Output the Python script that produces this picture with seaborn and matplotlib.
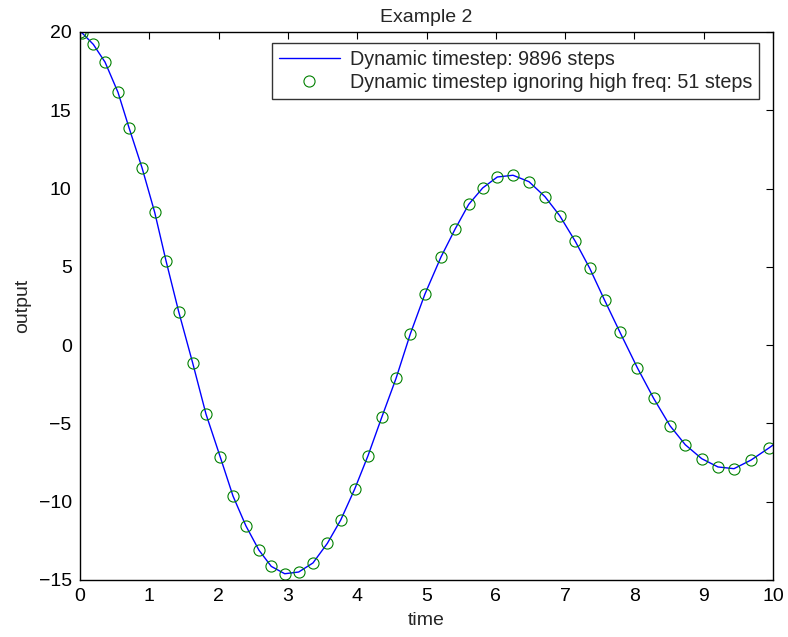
import matplotlib
matplotlib.use("Agg")
import matplotlib.pyplot as plt
import seaborn as sns
import pandas as pd

# samples (time, output)
coarse_t = [0.0, 0.03, 0.192, 0.361, 0.548, 0.707, 0.895, 1.078, 1.241, 1.424,
            1.626, 1.818, 2.025, 2.208, 2.395, 2.583, 2.760, 2.954, 3.156, 3.362,
            3.569, 3.762, 3.964, 4.156, 4.354, 4.560, 4.766, 4.978, 5.209, 5.416,
            5.609, 5.811, 6.022, 6.248, 6.479, 6.710, 6.922, 7.147, 7.355, 7.571,
            7.792, 8.042, 8.278, 8.514, 8.734, 8.971, 9.206, 9.437, 9.683, 9.947]
coarse_y = [19.98, 19.94, 19.21, 18.08, 16.15, 13.89, 11.33, 8.48, 5.39, 2.14,
            -1.14, -4.40, -7.16, -9.64, -11.55, -13.10, -14.13, -14.60, -14.49, -13.91,
            -12.66, -11.17, -9.19, -7.06, -4.61, -2.13, 0.71, 3.27, 5.63, 7.44,
            8.99, 10.04, 10.74, 10.85, 10.44, 9.48, 8.27, 6.63, 4.91, 2.86,
            0.82, -1.44, -3.40, -5.15, -6.36, -7.25, -7.78, -7.89, -7.34, -6.55]

# dense solution, plus the end point at t=10
fine_t = coarse_t + [10.0]
fine_y = coarse_y + [-6.38]

fine = pd.DataFrame({"time": fine_t, "output": fine_y})
coarse = pd.DataFrame({"time": coarse_t, "output": coarse_y})

sns.set_theme(style="white")
plt.rcParams["font.family"] = ["Liberation Sans", "DejaVu Sans"]

fig = plt.figure(figsize=(7.88, 6.37), dpi=100)
ax = fig.add_axes([80 / 788, 57 / 637, 693 / 788, 548 / 637])

sns.lineplot(data=fine, x="time", y="output", sort=False, ax=ax,
             color="#0000ff", linewidth=1.0, label="Dynamic timestep: 9896 steps")
sns.lineplot(data=coarse, x="time", y="output", sort=False, ax=ax,
             linestyle="none", marker="o", markersize=8, markerfacecolor="none",
             markeredgecolor="#008000", markeredgewidth=0.8, color="#008000",
             label="Dynamic timestep ignoring high freq: 51 steps")

ax.set_xlim(0, 10)
ax.set_ylim(-15, 20)
ax.set_xticks(range(0, 11))
ax.set_yticks(range(-15, 21, 5))
ax.tick_params(direction="in", top=True, right=True, length=5, width=0.8,
               labelsize=14, colors="black", pad=6)
for s in ax.spines.values():
    s.set_visible(True)
    s.set_color("black")
    s.set_linewidth(1.0)

ax.set_xlabel("time", fontsize=14, labelpad=5)
ax.set_ylabel("output", fontsize=14, labelpad=5)
ax.set_title("Example 2", fontsize=14, pad=7)

leg = ax.legend(loc="upper right", bbox_to_anchor=(0.9798, 0.9805), borderaxespad=0,
                fontsize=14.2, frameon=True, fancybox=False, handlelength=3.1,
                borderpad=0.35, labelspacing=0.22, handletextpad=0.5)
leg.get_frame().set_edgecolor("black")
leg.get_frame().set_linewidth(1.0)

fig.savefig("out.png", dpi=100)
